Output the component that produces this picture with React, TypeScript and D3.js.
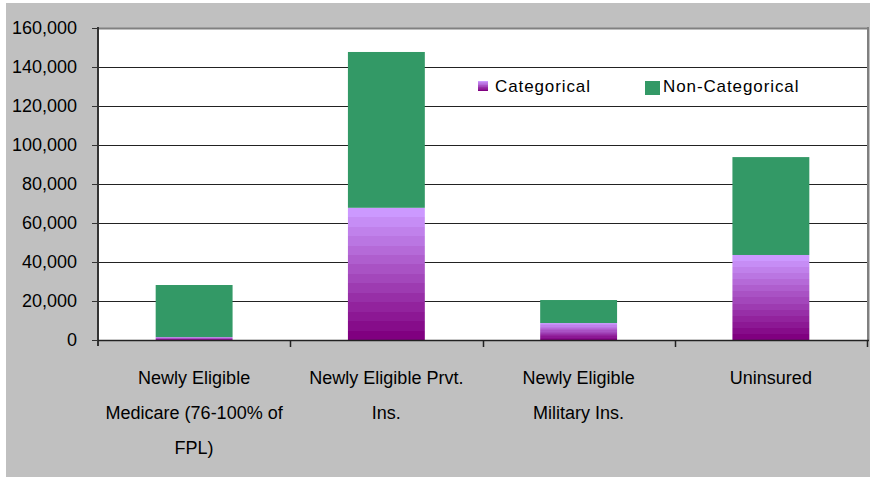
import React from "react";
import * as d3 from "d3";

const categories = ["Medicare", "Prvt", "Military", "Uninsured"];
const categoryLines: string[][] = [
  ["Newly Eligible", "Medicare (76-100% of", "FPL)"],
  ["Newly Eligible Prvt.", "Ins."],
  ["Newly Eligible", "Military Ins."],
  ["Uninsured"],
];
const categorical = [1500, 67800, 8700, 43600];
const nonCategorical = [26700, 79900, 11800, 50200];
const yTicks = [0, 20000, 40000, 60000, 80000, 100000, 120000, 140000, 160000];
const seriesNames = ["Categorical", "Non-Categorical"];

const W = 872;
const H = 477;
const plot = { left: 98, right: 867, top: 28, bottom: 340 };

export default function App() {
  const x = d3
    .scaleBand<string>()
    .domain(categories)
    .range([plot.left, plot.right])
    .paddingInner(0.6)
    .paddingOuter(0.3);
  const band = d3.scaleBand<string>().domain(categories).range([plot.left, plot.right]);
  const y = d3.scaleLinear().domain([0, 160000]).range([plot.bottom, plot.top]);
  const fmt = d3.format(",");
  const green = "#339966";

  const stops: { off: number; color: string }[] = [];
  const nSteps = 14;
  const interp = d3.interpolateRgb("#cc99ff", "#800080");
  for (let i = 0; i < nSteps; i++) {
    const c = interp(i / (nSteps - 1));
    stops.push({ off: i / nSteps, color: c });
    stops.push({ off: (i + 1) / nSteps, color: c });
  }

  return (
    <svg
      width={W}
      height={H}
      style={{ position: "absolute", left: 0, top: 0, display: "block" }}
      fontFamily="'Liberation Sans', Arial, sans-serif"
    >
      <defs>
        <linearGradient id="catGrad" x1="0" y1="0" x2="0" y2="1">
          {stops.map((s, i) => (
            <stop key={i} offset={s.off} stopColor={s.color} />
          ))}
        </linearGradient>
      </defs>
      <rect x={0} y={0} width={W} height={H} fill="#ffffff" />
      <rect x={6} y={3} width={864} height={H - 3} fill="#c0c0c0" />
      <rect
        x={plot.left}
        y={plot.top}
        width={plot.right - plot.left}
        height={plot.bottom - plot.top}
        fill="#ffffff"
      />
      {/* gridlines */}
      {yTicks.slice(1).map((t) => (
        <line
          key={t}
          x1={plot.left}
          x2={plot.right}
          y1={Math.round(y(t)) + 0.5}
          y2={Math.round(y(t)) + 0.5}
          stroke={t === 160000 ? "#808080" : "#222"}
          strokeWidth={t === 160000 ? 2 : 1}
        />
      ))}
      {/* right border */}
      <line x1={plot.right + 1} x2={plot.right + 1} y1={plot.top - 1} y2={plot.bottom} stroke="#808080" strokeWidth={2} />
      {/* bars */}
      {categories.map((c, i) => {
        const bx = x(c)!;
        const bw = x.bandwidth();
        const yc = y(categorical[i]);
        const yn = y(categorical[i] + nonCategorical[i]);
        return (
          <g key={c}>
            <rect x={bx} y={yc} width={bw} height={y(0) - yc} fill="url(#catGrad)" />
            <rect x={bx} y={yn} width={bw} height={yc - yn} fill={green} />
          </g>
        );
      })}
      {/* y axis */}
      <line x1={plot.left} x2={plot.left} y1={plot.top - 1} y2={plot.bottom + 6} stroke="#333" strokeWidth={2} />
      {yTicks.map((t) => (
        <g key={t}>
          <line x1={plot.left - 6} x2={plot.left} y1={Math.round(y(t)) + 0.5} y2={Math.round(y(t)) + 0.5} stroke="#333" />
          <text x={77} y={y(t)} dy="0.35em" textAnchor="end" fontSize={18} fill="#000">
            {fmt(t)}
          </text>
        </g>
      ))}
      {/* x axis */}
      <line x1={plot.left} x2={plot.right + 2} y1={plot.bottom + 0.5} y2={plot.bottom + 0.5} stroke="#222" strokeWidth={1.5} />
      {categories.map((c, i) => (
        <line
          key={"t" + c}
          x1={Math.round(band(c)! + band.bandwidth()) + 0.5}
          x2={Math.round(band(c)! + band.bandwidth()) + 0.5}
          y1={plot.bottom}
          y2={plot.bottom + 7}
          stroke="#222"
          strokeWidth={1.5}
        />
      ))}
      {categories.map((c, i) => (
        <text key={"l" + c} textAnchor="middle" fontSize={18} fill="#000">
          {categoryLines[i].map((ln, j) => (
            <tspan key={j} x={band(c)! + band.bandwidth() / 2} y={378 + j * 35} dy="0.35em">
              {ln}
            </tspan>
          ))}
        </text>
      ))}
      {/* legend */}
      <rect x={478} y={81} width={10} height={10} fill="url(#catGrad)" />
      <text x={495} y={86} dy="0.35em" fontSize={17} letterSpacing={0.9} fill="#000">
        {seriesNames[0]}
      </text>
      <rect x={645} y={81} width={15} height={14} fill={green} />
      <text x={663} y={86} dy="0.35em" fontSize={17} letterSpacing={0.9} fill="#000">
        {seriesNames[1]}
      </text>
    </svg>
  );
}
